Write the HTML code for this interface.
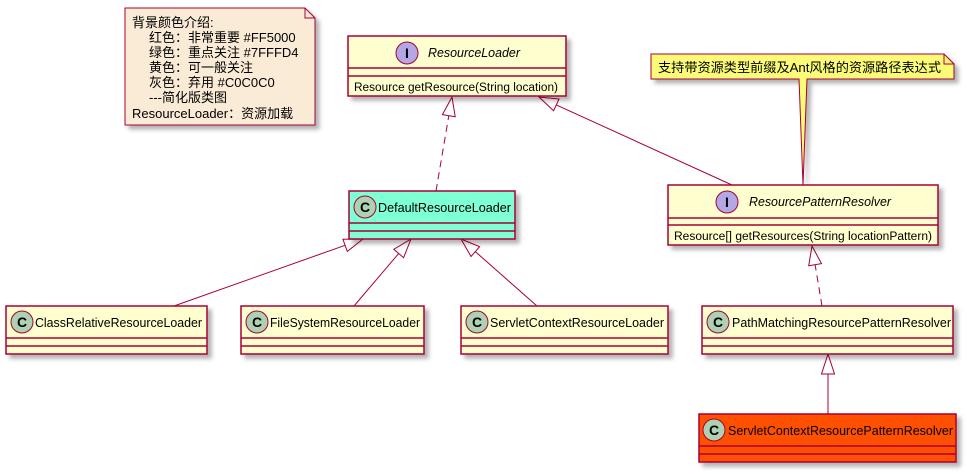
<!DOCTYPE html>
<html><head><meta charset="utf-8"><style>
html,body{margin:0;padding:0;background:#fff;}
svg{display:block;font-family:"Liberation Sans","Noto Sans CJK SC",sans-serif;}
</style></head><body>
<svg width="966" height="472" viewBox="0 0 966 472" xmlns="http://www.w3.org/2000/svg">
<defs><filter id="sh" x="-10%" y="-10%" width="130%" height="140%"><feDropShadow dx="4" dy="4" stdDeviation="2" flood-color="#000" flood-opacity="0.3"/></filter></defs>

<g filter="url(#sh)">
<polygon points="125,8 305,8 315,18 315,125 125,125" fill="#FAEBD7" stroke="#A80036" stroke-width="1"/>
</g>
<polyline points="305,8 305,18 315,18" fill="none" stroke="#A80036"/>
<g font-size="13" fill="#000">
<text x="132" y="27">背景颜色介绍:</text>
<text x="149" y="42">红色：非常重要 #FF5000</text>
<text x="149" y="57">绿色：重点关注 #7FFFD4</text>
<text x="149" y="72">黄色：可一般关注</text>
<text x="149" y="87">灰色：弃用 #C0C0C0</text>
<text x="149" y="102">---简化版类图</text>
<text x="132" y="118">ResourceLoader：资源加载</text>
</g>

<g filter="url(#sh)">
<polygon points="651,54 944,54 954,64 954,79 807,79 803,185 799,79 651,79" fill="#FBFB77" stroke="#A80036"/>
</g>
<polyline points="944,54 944,64 954,64" fill="none" stroke="#A80036"/>
<text x="658" y="72" font-size="13" textLength="283" lengthAdjust="spacingAndGlyphs">支持带资源类型前缀及Ant风格的资源路径表达式</text>

<g stroke="#A80036" stroke-width="1" fill="none">
<line x1="436" y1="191" x2="448.8" y2="115.7" stroke-dasharray="7,5"/>
<line x1="732" y1="185" x2="556.3" y2="104.9"/>
<line x1="174" y1="306" x2="345.1" y2="245.3"/>
<line x1="354" y1="306" x2="398.7" y2="253.5"/>
<line x1="537" y1="306" x2="475.3" y2="251.6"/>
<line x1="822" y1="306" x2="815.1" y2="264.7" stroke-dasharray="7,5"/>
<line x1="828" y1="414" x2="828" y2="374"/>
</g>
<g stroke="#A80036" stroke-width="1" fill="#fff">
<polygon points="452,97 455.2,116.8 442.4,114.6"/>
<polygon points="539,97 559,99 553.6,110.8"/>
<polygon points="363,239 347.3,251.4 342.9,239.2"/>
<polygon points="411,239 403.6,257.7 393.8,249.3"/>
<polygon points="461,239 479.6,246.7 471,256.5"/>
<polygon points="812,246 821.5,263.6 808.7,265.8"/>
<polygon points="828,354 834.5,374 821.5,374"/>
</g>

<g filter="url(#sh)"><rect x="348" y="36" width="218" height="60" fill="#FEFECE" stroke="#A80036" stroke-width="1.5"/></g>
<line x1="348" y1="68" x2="566" y2="68" stroke="#A80036" stroke-width="1.5"/>
<line x1="348" y1="76" x2="566" y2="76" stroke="#A80036" stroke-width="1.5"/>
<circle cx="407" cy="53" r="11" fill="#B4A7E5" stroke="#A80036"/>
<text x="407" y="58" font-size="14" font-weight="bold" text-anchor="middle">I</text>
<text x="428" y="57" font-size="12.5" font-style="italic" textLength="92" lengthAdjust="spacingAndGlyphs">ResourceLoader</text>
<text x="354" y="91" font-size="11.5" textLength="204" lengthAdjust="spacingAndGlyphs">Resource getResource(String location)</text>

<g filter="url(#sh)"><rect x="349" y="191" width="166" height="48" fill="#7FFFD4" stroke="#A80036" stroke-width="1.5"/></g>
<line x1="349" y1="223" x2="515" y2="223" stroke="#A80036" stroke-width="1.5"/>
<line x1="349" y1="231" x2="515" y2="231" stroke="#A80036" stroke-width="1.5"/>
<circle cx="365" cy="207" r="11" fill="#ADD1B2" stroke="#A80036"/>
<text x="365" y="212" font-size="14" font-weight="bold" text-anchor="middle">C</text>
<text x="378" y="212" font-size="13" textLength="133" lengthAdjust="spacingAndGlyphs">DefaultResourceLoader</text>

<g filter="url(#sh)"><rect x="668" y="185" width="270" height="60" fill="#FEFECE" stroke="#A80036" stroke-width="1.5"/></g>
<line x1="668" y1="218" x2="938" y2="218" stroke="#A80036" stroke-width="1.5"/>
<line x1="668" y1="225" x2="938" y2="225" stroke="#A80036" stroke-width="1.5"/>
<circle cx="727" cy="202" r="11" fill="#B4A7E5" stroke="#A80036"/>
<text x="727" y="207" font-size="14" font-weight="bold" text-anchor="middle">I</text>
<text x="749" y="206" font-size="12.5" font-style="italic" textLength="142" lengthAdjust="spacingAndGlyphs">ResourcePatternResolver</text>
<text x="674" y="240" font-size="11.5" textLength="258" lengthAdjust="spacingAndGlyphs">Resource[] getResources(String locationPattern)</text>

<g filter="url(#sh)" stroke="#A80036" stroke-width="1.5" fill="#FEFECE">
<rect x="6" y="306" width="201" height="48"/>
<rect x="241" y="306" width="183" height="48"/>
<rect x="461" y="306" width="207" height="48"/>
<rect x="702" y="306" width="251" height="48"/>
<rect x="699" y="414" width="257" height="48" fill="#FF5000"/>
</g>
<g stroke="#A80036" stroke-width="1.5">
<line x1="6" y1="338" x2="207" y2="338"/><line x1="6" y1="346" x2="207" y2="346"/>
<line x1="241" y1="338" x2="424" y2="338"/><line x1="241" y1="346" x2="424" y2="346"/>
<line x1="461" y1="338" x2="668" y2="338"/><line x1="461" y1="346" x2="668" y2="346"/>
<line x1="702" y1="338" x2="953" y2="338"/><line x1="702" y1="346" x2="953" y2="346"/>
<line x1="699" y1="446" x2="956" y2="446"/><line x1="699" y1="454" x2="956" y2="454"/>
</g>
<g fill="#ADD1B2" stroke="#A80036">
<circle cx="22" cy="322" r="11"/><circle cx="257" cy="322" r="11"/><circle cx="477" cy="322" r="11"/>
<circle cx="718" cy="322" r="11"/><circle cx="714" cy="430" r="11"/>
</g>
<g font-size="14" font-weight="bold" text-anchor="middle">
<text x="22" y="327">C</text><text x="257" y="327">C</text><text x="477" y="327">C</text>
<text x="718" y="327">C</text><text x="714" y="435">C</text>
</g>
<g font-size="13">
<text x="35" y="327" textLength="167" lengthAdjust="spacingAndGlyphs">ClassRelativeResourceLoader</text>
<text x="270" y="327" textLength="150" lengthAdjust="spacingAndGlyphs">FileSystemResourceLoader</text>
<text x="490" y="327" textLength="174" lengthAdjust="spacingAndGlyphs">ServletContextResourceLoader</text>
<text x="732" y="327" textLength="219" lengthAdjust="spacingAndGlyphs">PathMatchingResourcePatternResolver</text>
<text x="728" y="435" textLength="225" lengthAdjust="spacingAndGlyphs">ServletContextResourcePatternResolver</text>
</g>
</svg>
</body></html>
